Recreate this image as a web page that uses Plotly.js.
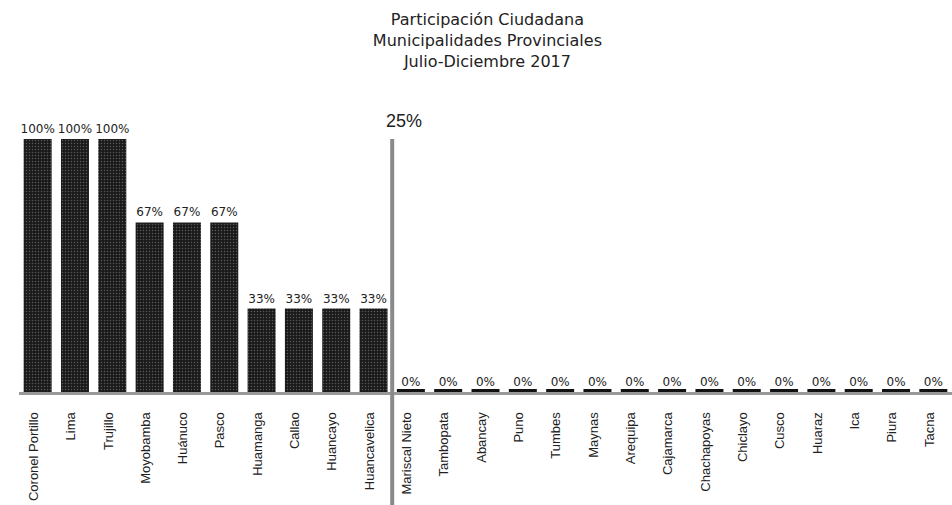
<!DOCTYPE html>
<html>
<head>
<meta charset="utf-8">
<script src="https://cdn.plot.ly/plotly-3.0.1.min.js"></script>
<style>html,body{margin:0;padding:0;background:#fff;}#chart{width:952px;height:505px;}</style>
</head>
<body>
<div id="chart"></div>
<script>
const categories = ["Coronel Portillo","Lima","Trujillo","Moyobamba","Huánuco","Pasco","Huamanga","Callao","Huancayo","Huancavelica","Mariscal Nieto","Tambopata","Abancay","Puno","Tumbes","Maynas","Arequipa","Cajamarca","Chachapoyas","Chiclayo","Cusco","Huaraz","Ica","Piura","Tacna"];
const participation = [100,100,100,67,67,67,33,33,33,33,0,0,0,0,0,0,0,0,0,0,0,0,0,0,0];
const thresholdValue = 25;
const thresholdLabel = "25%";
const titleLines = ["Participación Ciudadana","Municipalidades Provinciales","Julio-Diciembre 2017"];

const aboveCount = participation.filter(v => v > thresholdValue).length;
const sepX = aboveCount - 0.5;

const trace = {
  type: 'bar',
  x: categories,
  y: participation,
  text: participation.map(v => v + '%'),
  textposition: 'outside',
  constraintext: 'none',
  cliponaxis: false,
  textfont: {family: 'DejaVu Sans, sans-serif', size: 12, color: '#222'},
  marker: {
    color: '#1c1c1c',
    pattern: {shape: '.', fgcolor: '#5a5a5a', bgcolor: '#1a1a1a', size: 3, solidity: 0.2},
    line: {color: '#111', width: participation.map(v => v === 0 ? 6 : 0)}
  },
  hoverinfo: 'x+y'
};

const layout = {
  width: 952, height: 505,
  margin: {l: 19, r: 0, t: 139, b: 113},
  paper_bgcolor: '#fff', plot_bgcolor: '#fff',
  bargap: 0.25,
  showlegend: false,
  title: {
    text: titleLines.join('<br>'),
    font: {family: 'DejaVu Sans, sans-serif', size: 16, color: '#222'},
    x: 0.512, xanchor: 'center',
    y: 0.95, yanchor: 'top', yref: 'container'
  },
  xaxis: {
    type: 'category',
    tickangle: -90,
    ticks: '',
    ticklabelstandoff: 12,
    ticklabelshift: -4,
    tickfont: {family: 'Liberation Sans, Arial, sans-serif', size: 13, color: '#222'},
    showline: true, linecolor: '#999', linewidth: 3,
    showgrid: false, zeroline: false, fixedrange: true
  },
  yaxis: {
    range: [0, 100],
    visible: false,
    showgrid: false, zeroline: false, fixedrange: true
  },
  shapes: [{
    type: 'line', xref: 'x', yref: 'paper',
    x0: sepX, x1: sepX, y0: -113/253, y1: 1,
    line: {color: '#8a8a8a', width: 4}
  }],
  annotations: [{
    text: thresholdLabel, xref: 'x', yref: 'paper',
    x: sepX, y: 1, xanchor: 'center', yanchor: 'bottom',
    xshift: 12, yshift: 6, showarrow: false,
    font: {family: 'Liberation Sans, Arial, sans-serif', size: 18, color: '#222'}
  }]
};

Plotly.newPlot('chart', [trace], layout, {displayModeBar: false, staticPlot: true});
</script>
</body>
</html>
